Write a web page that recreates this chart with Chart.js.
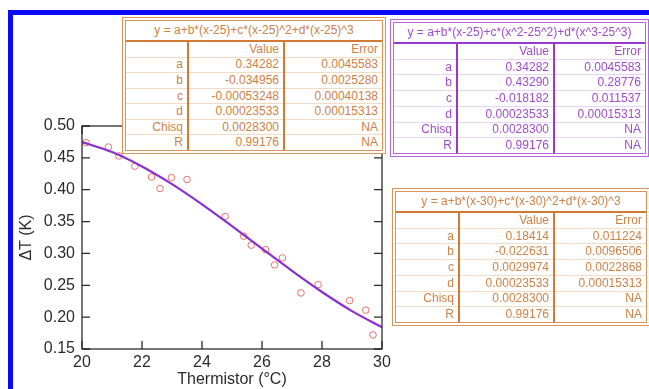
<!DOCTYPE html>
<html>
<head>
<meta charset="utf-8">
<script src="https://cdn.jsdelivr.net/npm/chart.js@4"></script>
<style>
  html, body { margin: 0; padding: 0; background: #fff; }
  #wrap { position: relative; width: 649px; height: 389px; overflow: hidden; background: #fff; }
  #frame { position: absolute; left: 8px; top: 10px; width: 700px; height: 400px;
           border-left: 5px solid #0a0af5; border-top: 5px solid #0a0af5; box-sizing: border-box; }
  canvas { position: absolute; left: 0; top: 0; }
  .tbl { position: absolute; background: #fff; box-sizing: border-box; border: 4px double; }
  .tbl table { width: 100%; height: 100%; border-collapse: collapse; table-layout: fixed;
               font: 12px "Liberation Sans", Arial, sans-serif; }
  .tbl td { padding: 0 4px 0 0; text-align: right; border-bottom: 1px solid; white-space: nowrap; line-height: 13px; }
  .tbl tr:last-child td { border-bottom: none; }
  .tbl td.title { text-align: center; padding: 0; border-bottom: 2px solid; }
  .tbl td.c0, .tbl td.c1 { border-right: 2px solid; }
  .orange { border-color: #dc9358; color: #cd8247; }
  .orange td { border-color: #f4dcc4; }
  .orange td.title { border-bottom-color: #d07a36; }
  .orange td.c0, .orange td.c1 { border-right-color: #d07a36; }
  .purple { border-color: #b468e0; color: #a04ccc; }
  .purple td { border-color: #e8d4f4; }
  .purple td.title { border-bottom-color: #9a38cc; }
  .purple td.c0, .purple td.c1 { border-right-color: #9a38cc; }
</style>
</head>
<body>
<div id="wrap">
  <div id="frame"></div>
  <canvas id="chart" width="649" height="389"></canvas>
</div>
<script>
// measured points (Thermistor °C, ΔT K)
const tempX = [20.13, 20.88, 21.23, 21.76, 22.32, 22.6, 22.98, 23.5, 24.77, 25.39,
               25.64, 26.12, 26.42, 26.68, 27.3, 27.87, 28.92, 29.46, 29.7];
const deltaT = [0.474, 0.467, 0.453, 0.437, 0.420, 0.402, 0.419, 0.416, 0.358, 0.327,
                0.313, 0.306, 0.282, 0.293, 0.238, 0.251, 0.226, 0.211, 0.172];

// fitted curve
const fitX = [20, 21, 22, 23, 24, 25, 26, 27, 28, 29, 30];
const fitY = [0.4749, 0.4591, 0.4365, 0.4087, 0.3770, 0.3428, 0.3076, 0.2727, 0.2395, 0.2095, 0.1841];

const xTicks = [20, 22, 24, 26, 28, 30];
const yTicks = [0.15, 0.20, 0.25, 0.30, 0.35, 0.40, 0.45, 0.50];

// fit tables
const rowNames = ['a', 'b', 'c', 'd', 'Chisq', 'R'];
const fit1Title = 'y = a+b*(x-25)+c*(x-25)^2+d*(x-25)^3';
const fit1Values = ['0.34282', '-0.034956', '-0.00053248', '0.00023533', '0.0028300', '0.99176'];
const fit1Errors = ['0.0045583', '0.0025280', '0.00040138', '0.00015313', 'NA', 'NA'];
const fit2Title = 'y = a+b*(x-25)+c*(x^2-25^2)+d*(x^3-25^3)';
const fit2Values = ['0.34282', '0.43290', '-0.018182', '0.00023533', '0.0028300', '0.99176'];
const fit2Errors = ['0.0045583', '0.28776', '0.011537', '0.00015313', 'NA', 'NA'];
const fit3Title = 'y = a+b*(x-30)+c*(x-30)^2+d*(x-30)^3';
const fit3Values = ['0.18414', '-0.022631', '0.0029974', '0.00023533', '0.0028300', '0.99176'];
const fit3Errors = ['0.011224', '0.0096506', '0.0022868', '0.00015313', 'NA', 'NA'];

function addTable(cls, left, top, width, height, cols, title, values, errors) {
    const div = document.createElement('div');
    div.className = 'tbl ' + cls;
    div.style.cssText = `left:${left}px;top:${top}px;width:${width}px;height:${height}px;`;
    let html = `<table><colgroup><col style="width:${cols[0]}px"><col style="width:${cols[1]}px"><col></colgroup>`;
    html += `<tr style="height:20px"><td class="title" colspan="3">${title}</td></tr>`;
    html += `<tr><td class="c0"></td><td class="c1">Value</td><td>Error</td></tr>`;
    rowNames.forEach((n, i) => {
        html += `<tr><td class="c0">${n}</td><td class="c1">${values[i]}</td><td>${errors[i]}</td></tr>`;
    });
    html += '</table>';
    div.innerHTML = html;
    document.getElementById('wrap').appendChild(div);
}

addTable('orange', 122, 17, 264, 137, [62, 96], fit1Title, fit1Values, fit1Errors);
addTable('purple', 390, 19, 259, 138, [63, 97], fit2Title, fit2Values, fit2Errors);
addTable('orange', 392, 188, 258, 138, [63, 95], fit3Title, fit3Values, fit3Errors);

// box around plot with inward ticks on all sides
const boxPlugin = {
    id: 'box',
    afterDatasetsDraw(chart) {
        const { ctx, chartArea: a, scales } = chart;
        const len = 8;
        ctx.save();
        ctx.strokeStyle = '#2b2b2b';
        ctx.lineWidth = 1.3;
        ctx.strokeRect(a.left, a.top, a.right - a.left, a.bottom - a.top);
        ctx.beginPath();
        xTicks.forEach(v => {
            const px = scales.x.getPixelForValue(v);
            ctx.moveTo(px, a.bottom); ctx.lineTo(px, a.bottom - len);
            ctx.moveTo(px, a.top); ctx.lineTo(px, a.top + len);
        });
        yTicks.forEach(v => {
            const py = scales.y.getPixelForValue(v);
            ctx.moveTo(a.left, py); ctx.lineTo(a.left + len, py);
            ctx.moveTo(a.right, py); ctx.lineTo(a.right - len, py);
        });
        ctx.stroke();
        ctx.restore();
    }
};

const font = { family: '"Liberation Sans", Arial, sans-serif', size: 16 };

new Chart(document.getElementById('chart'), {
    type: 'scatter',
    data: {
        datasets: [{
            type: 'line',
            data: fitX.map((x, i) => ({ x, y: fitY[i] })),
            borderColor: '#8a2fd0',
            borderWidth: 2.2,
            pointRadius: 0,
            cubicInterpolationMode: 'monotone',
            fill: false
        }, {
            data: tempX.map((x, i) => ({ x, y: deltaT[i] })),
            pointStyle: 'circle',
            pointRadius: 3.3,
            borderWidth: 1,
            borderColor: '#ec6f6a',
            backgroundColor: 'rgba(255,255,255,0)',
            clip: false
        }]
    },
    options: {
        responsive: false,
        devicePixelRatio: 1,
        animation: false,
        plugins: { legend: { display: false }, tooltip: { enabled: false } },
        layout: { padding: { left: 0, right: 267, top: 126, bottom: 0 } },
        scales: {
            x: {
                type: 'linear', min: 20, max: 30,
                afterBuildTicks: s => { s.ticks = xTicks.map(v => ({ value: v })); },
                afterFit: s => { s.height = 40; },
                grid: { display: false, drawTicks: false },
                border: { display: false },
                ticks: { font, color: '#2b2b2b', padding: 4, maxRotation: 0, callback: v => String(v) },
                title: { display: true, text: 'Thermistor (°C)', font, color: '#2b2b2b', padding: { top: 0, bottom: 0 } }
            },
            y: {
                type: 'linear', min: 0.15, max: 0.50,
                afterBuildTicks: s => { s.ticks = yTicks.map(v => ({ value: v })); },
                afterFit: s => { s.width = 82; },
                grid: { display: false, drawTicks: false },
                border: { display: false },
                ticks: { font, color: '#2b2b2b', padding: 7, callback: v => v.toFixed(2) },
                title: { display: true, text: 'ΔT (K)', font, color: '#2b2b2b', padding: { top: 17, bottom: 0 } }
            }
        }
    },
    plugins: [boxPlugin]
});
</script>
</body>
</html>
